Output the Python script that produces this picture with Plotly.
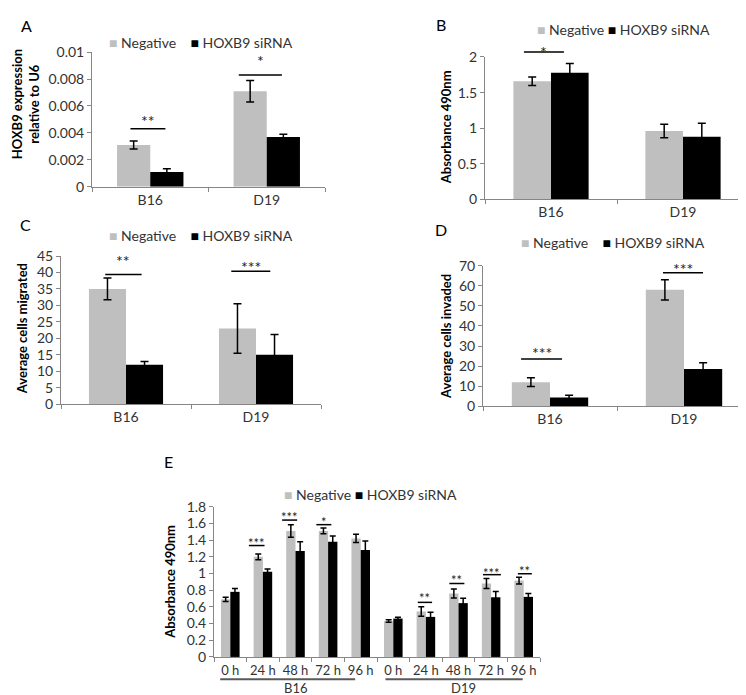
import plotly.graph_objects as go

# ---------------- data ----------------
groups = ["B16", "D19"]
series_names = ["Negative", "HOXB9 siRNA"]

# Panel A: HOXB9 expression relative to U6
A_neg = [0.0031, 0.0071]
A_neg_err = [0.0003, 0.0008]
A_kd = [0.0011, 0.0037]
A_kd_err = [0.00024, 0.0002]
A_sig_text = ["**", "*"]
A_sig_line = [0.0043, 0.0083]
A_sig_star = [0.0052, 0.0097]

# Panel B: Absorbance 490nm
B_neg = [1.66, 0.96]
B_neg_err = [0.06, 0.095]
B_kd = [1.78, 0.88]
B_kd_err = [0.13, 0.19]
B_sig_text = ["*"]
B_sig_line = [2.07]
B_sig_star = [2.13]

# Panel C: Average cells migrated
C_neg = [35, 23]
C_neg_err = [3.3, 7.5]
C_kd = [12, 15]
C_kd_err = [1.0, 6.2]
C_sig_text = ["**", "***"]
C_sig_line = [39.4, 40.4]
C_sig_star = [45.0, 43.0]

# Panel D: Average cells invaded
D_neg = [12, 58]
D_neg_err = [2.2, 5.0]
D_kd = [4.4, 18.6]
D_kd_err = [1.1, 3.1]
D_sig_text = ["***", "***"]
D_sig_line = [23.5, 66.5]
D_sig_star = [28.7, 70.8]

# Panel E: Absorbance 490nm over time
hours = ["0 h", "24 h", "48 h", "72 h", "96 h"]
E_neg = [0.69, 1.20, 1.51, 1.51, 1.42, 0.43, 0.545, 0.76, 0.88, 0.915]
E_neg_err = [0.025, 0.035, 0.075, 0.035, 0.05, 0.015, 0.056, 0.055, 0.06, 0.04]
E_kd = [0.78, 1.02, 1.27, 1.38, 1.28, 0.46, 0.48, 0.645, 0.715, 0.72]
E_kd_err = [0.04, 0.035, 0.11, 0.07, 0.11, 0.015, 0.055, 0.058, 0.07, 0.04]
E_sig_cat = [1, 2, 3, 6, 7, 8, 9]
E_sig_text = ["***", "***", "*", "**", "**", "***", "**"]
E_sig_line = [1.335, 1.64, 1.585, 0.654, 0.88, 0.986, 0.997]
E_sig_star = [1.41, 1.73, 1.67, 0.75, 0.966, 1.05, 1.075]

# ---------------- layout helpers ----------------
W, H = 746, 695
FONT = "Lato, Carlito, Calibri, sans-serif"
GRAY = "#BFBFBF"
AXC = "#868686"
TXT = "#333333"


def fx(p):
    return p / W


def fy(p):
    return 1 - p / H


fig = go.Figure()

E_x = [f"{g} {h}" for g in groups for h in hours]

panels = [
    dict(ax="", x=groups, neg=A_neg, ne=A_neg_err, kd=A_kd, ke=A_kd_err,
         xd=(84, 317), yd=(174, 36), ymax=0.01, dtick=0.002, cap=4),
    dict(ax="2", x=groups, neg=B_neg, ne=B_neg_err, kd=B_kd, ke=B_kd_err,
         xd=(477, 741), yd=(187, 41), ymax=2, dtick=0.5, cap=4),
    dict(ax="3", x=groups, neg=C_neg, ne=C_neg_err, kd=C_kd, ke=C_kd_err,
         xd=(53, 313), yd=(397, 245), ymax=45, dtick=5, cap=4),
    dict(ax="4", x=groups, neg=D_neg, ne=D_neg_err, kd=D_kd, ke=D_kd_err,
         xd=(475, 743), yd=(399, 255), ymax=70, dtick=10, cap=4),
    dict(ax="5", x=E_x, neg=E_neg, ne=E_neg_err, kd=E_kd, ke=E_kd_err,
         xd=(206, 532), yd=(656, 502), ymax=1.8, dtick=0.2, cap=3),
]

for p in panels:
    xa = "x" + p["ax"]
    ya = "y" + p["ax"]
    for name, vals, errs, col in [(series_names[0], p["neg"], p["ne"], GRAY),
                                  (series_names[1], p["kd"], p["ke"], "#000000")]:
        fig.add_trace(go.Bar(
            x=p["x"], y=vals, name=name, marker=dict(color=col, line=dict(width=0)),
            error_y=dict(type="data", array=errs, visible=True, color="#000000",
                         thickness=1.5, width=p["cap"]),
            xaxis=xa, yaxis=ya, showlegend=False,
        ))
    xkey = "xaxis" + p["ax"]
    ykey = "yaxis" + p["ax"]
    xaxis = dict(domain=[fx(p["xd"][0]), fx(p["xd"][1])], anchor=ya, type="category",
                 showline=True, linecolor=AXC, linewidth=1, ticks="outside",
                 tickson="boundaries", ticklen=4, tickcolor=AXC, showgrid=False,
                 tickangle=0,
                 tickfont=dict(family=FONT, size=14, color=TXT), fixedrange=True)
    if p["ax"] == "5":
        xaxis.update(tickmode="array", tickvals=E_x, ticktext=hours * 2,
                     ticklabelstandoff=1,
                     tickfont=dict(family=FONT, size=13, color=TXT))
    yaxis = dict(domain=[fy(p["yd"][0]), fy(p["yd"][1])], anchor=xa,
                 range=[0, p["ymax"]], dtick=p["dtick"], tick0=0,
                 showline=True, linecolor=AXC, linewidth=1, ticks="outside",
                 ticklen=4, tickcolor=AXC, showgrid=False, zeroline=False,
                 tickfont=dict(family=FONT, size=14, color=TXT), fixedrange=True)
    fig.layout[xkey] = xaxis
    fig.layout[ykey] = yaxis

# ---------------- significance marks ----------------
shapes = []
annotations = []

sig_sets = [
    ("", [0, 1], A_sig_line, A_sig_star, A_sig_text, [(-0.17, 0.13), (-0.24, 0.13)], 0.01, 16),
    ("2", [0], B_sig_line, B_sig_star, B_sig_text, [(-0.205, 0.098)], 2, 16),
    ("3", [0, 1], C_sig_line, C_sig_star, C_sig_text, [(-0.16, 0.12), (-0.19, 0.11)], 45, 16),
    ("4", [0, 1], D_sig_line, D_sig_star, D_sig_text, [(-0.216, 0.09), (-0.157, 0.142)], 70, 16),
    ("5", E_sig_cat, E_sig_line, E_sig_star, E_sig_text,
     [(-0.43, 0.05), (-0.41, 0.05), (-0.36, 0.10), (-0.25, 0.19), (-0.28, 0.18),
      (-0.25, 0.30), (-0.18, 0.25)], 1.8, 13),
]
for ax, cats, lines, stars, texts, spans, ymax, fsize in sig_sets:
    for c, ly, sy, t, (o0, o1) in zip(cats, lines, stars, texts, spans):
        shapes.append(dict(type="line", xref="x" + ax, yref="y" + ax + " domain",
                           x0=c + o0, x1=c + o1, y0=ly / ymax, y1=ly / ymax,
                           line=dict(color="#000000", width=1.5)))
        annotations.append(dict(xref="x" + ax, yref="y" + ax + " domain",
                                x=c + (o0 + o1) / 2, y=sy / ymax,
                                text=t, showarrow=False, yanchor="middle", yshift=-4,
                                font=dict(family=FONT, size=fsize, color="#222222")))

# group underline + group labels for panel E
E_groups_span = [(-0.31, 3.83), (4.76, 8.97)]
E_group_label_x = [2.0, 7.15]
for g, (a, b), lx in zip(groups, E_groups_span, E_group_label_x):
    shapes.append(dict(type="line", xref="x5", yref="y5 domain", x0=a, x1=b,
                       y0=-0.149, y1=-0.149, line=dict(color="#595959", width=2)))
    annotations.append(dict(xref="x5", yref="y5 domain", x=lx, y=-0.205, text=g,
                            showarrow=False, yanchor="middle",
                            font=dict(family=FONT, size=13, color=TXT)))

# ---------------- legends (per panel) ----------------
def legend_text(sep):
    return (f'<span style="color:{GRAY}">■</span> {series_names[0]}' + sep +
            f'<span style="color:#000000">■</span> {series_names[1]}')

legend_pos = [(193, 26, "&nbsp;&nbsp;&nbsp;&nbsp;"), (615, 13, "&nbsp;"),
              (193, 224, "&nbsp;&nbsp;&nbsp;&nbsp;"), (605, 231, "&nbsp;&nbsp;&nbsp;&nbsp;"),
              (362, 489, "&nbsp;")]
for x, y, sep in legend_pos:
    annotations.append(dict(xref="paper", yref="paper", x=fx(x), y=fy(y),
                            text=legend_text(sep), showarrow=False,
                            xanchor="center", yanchor="middle",
                            font=dict(family=FONT, size=14, color=TXT)))

# ---------------- y-axis titles ----------------
ytitles = [("HOXB9 expression<br>relative to U6", 17.5, 90),
           ("Absorbance 490nm", 438, 113),
           ("Average cells migrated", 14, 320),
           ("Average cells invaded", 438, 327),
           ("Absorbance 490nm", 162, 579)]
for t, x, y in ytitles:
    annotations.append(dict(xref="paper", yref="paper", x=fx(x), y=fy(y),
                            text=f"<b>{t}</b>", textangle=-90, showarrow=False,
                            xanchor="center", yanchor="middle",
                            font=dict(family=FONT, size=13, color="#000000")))

# ---------------- panel letters ----------------
letters = [("A", 18.5, 8.5), ("B", 433, 8), ("C", 17, 213), ("D", 433, 218), ("E", 160, 456)]
for t, x, y in letters:
    annotations.append(dict(xref="paper", yref="paper", x=fx(x), y=fy(y), text=t,
                            showarrow=False, xanchor="center", yanchor="middle",
                            font=dict(family=FONT, size=16, color="#000000")))

fig.update_layout(
    width=W, height=H, autosize=False,
    margin=dict(l=0, r=0, t=0, b=0),
    paper_bgcolor="white", plot_bgcolor="white",
    barmode="group", bargap=0.43, bargroupgap=0,
    showlegend=False,
    shapes=shapes, annotations=annotations,
    font=dict(family=FONT, color=TXT),
)

fig.write_html("out.html")
